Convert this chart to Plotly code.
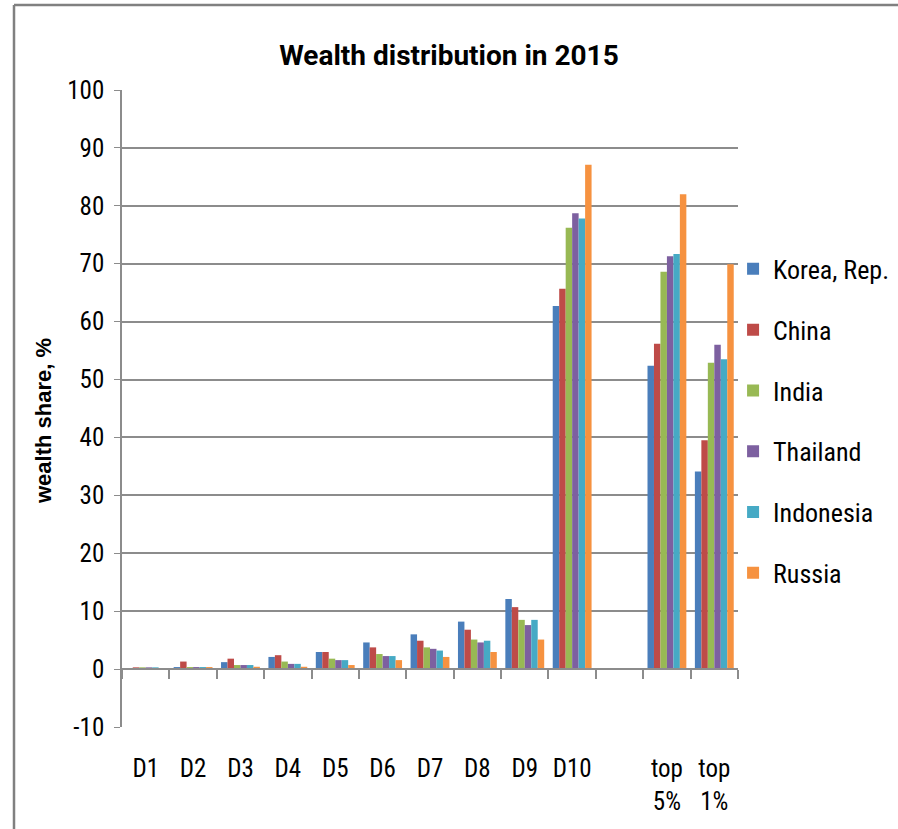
import plotly.graph_objects as go

categories = ["D1", "D2", "D3", "D4", "D5", "D6", "D7", "D8", "D9", "D10", " ", "top<br>5%", "top<br>1%"]

korea     = [0.0, 0.35, 1.2, 2.1, 2.95, 4.6, 6.0, 8.2, 12.1, 62.7, None, 52.4, 34.1]
china     = [0.3, 1.3, 1.8, 2.4, 2.95, 3.75, 4.9, 6.8, 10.7, 65.7, None, 56.2, 39.5]
india     = [0.3, 0.35, 0.7, 1.3, 1.8, 2.6, 3.75, 5.1, 8.5, 76.2, None, 68.6, 52.9]
thailand  = [0.3, 0.35, 0.7, 0.9, 1.55, 2.25, 3.5, 4.6, 7.6, 78.7, None, 71.3, 56.0]
indonesia = [0.3, 0.35, 0.7, 0.9, 1.55, 2.25, 3.2, 4.9, 8.5, 77.8, None, 71.7, 53.5]
russia    = [0.05, 0.35, 0.4, 0.4, 0.7, 1.55, 2.1, 2.95, 5.1, 87.1, None, 82.0, 69.9]

series_names = ["Korea, Rep.", "China", "India", "Thailand", "Indonesia", "Russia"]
series_values = [korea, china, india, thailand, indonesia, russia]
series_colors = ["#4A7EBB", "#BE4B48", "#98B954", "#7D60A0", "#46AAC5", "#F69240"]

y_ticks = list(range(-10, 101, 10))
y_ticktext = [str(v) for v in y_ticks]

FONT = "Liberation Sans Narrow, Roboto Condensed, Liberation Sans, sans-serif"

fig = go.Figure()
for name, vals, col in zip(series_names, series_values, series_colors):
    fig.add_trace(go.Bar(
        x=categories, y=vals, name=name, legendgroup=name,
        marker=dict(color=col, line=dict(width=0)),
    ))

# helper trace for the category axis crossing at zero
fig.add_trace(go.Scatter(
    x=categories, y=[None] * len(categories), xaxis="x2", yaxis="y",
    mode="markers", marker=dict(opacity=0), showlegend=False, hoverinfo="skip",
))

fig.update_layout(
    width=898, height=829,
    margin=dict(l=122, r=160, t=90, b=102, autoexpand=False),
    paper_bgcolor="white", plot_bgcolor="white",
    barmode="group", bargap=0.18, bargroupgap=0.0,
    title=dict(text="<b>Wealth distribution in 2015</b>", x=0.5, xref="container",
               xanchor="center",
               y=1 - 55 / 829, yref="container", yanchor="middle",
               font=dict(family="Roboto, Liberation Sans, sans-serif", size=28, color="black")),
    font=dict(family=FONT, size=25, color="black"),
    legend=dict(x=0.992, xanchor="left", y=0.756, yanchor="top",
                bgcolor="rgba(0,0,0,0)",
                traceorder="grouped", tracegroupgap=24,
                font=dict(family=FONT, size=26, color="black"),
                itemwidth=30),
    showlegend=True,
    xaxis=dict(type="category", categoryorder="array", categoryarray=categories,
               range=[-0.5, len(categories) - 0.5],
               showline=False, showgrid=False, ticks="", ticklabelstandoff=24,
               tickfont=dict(family=FONT, size=25, color="black")),
    xaxis2=dict(type="category", categoryorder="array", categoryarray=categories,
                range=[-0.5, len(categories) - 0.5], overlaying="x", anchor="free",
                position=10 / 110, side="bottom", showline=True, linecolor="#8c8c8c",
                linewidth=1.5, ticks="outside", tickson="boundaries", ticklen=9,
                tickcolor="#8c8c8c", tickwidth=1.5, showticklabels=False, showgrid=False),
    yaxis=dict(range=[-10, 100], tickmode="array", tickvals=y_ticks, ticktext=y_ticktext,
               showgrid=True, gridcolor="#8c8c8c",
               gridwidth=1.5, zeroline=False, showline=True, linecolor="#8c8c8c",
               linewidth=1.5, ticks="outside", ticklen=6, tickcolor="#8c8c8c",
               ticklabelstandoff=5,
               tickfont=dict(family=FONT, size=25, color="black")),
)

fig.add_annotation(text="<b>wealth share, %</b>", textangle=-90, showarrow=False,
                   xref="paper", yref="paper", x=(43 - 122) / 616, y=(727 - 421) / 637,
                   xanchor="center", yanchor="middle",
                   font=dict(family="Liberation Sans, Arial, sans-serif", size=22, color="black"))

# outer chart frame (top and left edges visible in the reference)
fig.add_shape(type="line", xref="paper", yref="paper",
              x0=(14 - 122) / 616, x1=(898 - 122) / 616, y0=(727 - 5) / 637, y1=(727 - 5) / 637,
              line=dict(color="#808080", width=2.5))
fig.add_shape(type="line", xref="paper", yref="paper",
              x0=(14 - 122) / 616, x1=(14 - 122) / 616, y0=(727 - 5) / 637, y1=(727 - 829) / 637,
              line=dict(color="#808080", width=2.5))

fig.write_html("out.html", config={"displayModeBar": False},
               post_script="document.body.style.margin='0';")
